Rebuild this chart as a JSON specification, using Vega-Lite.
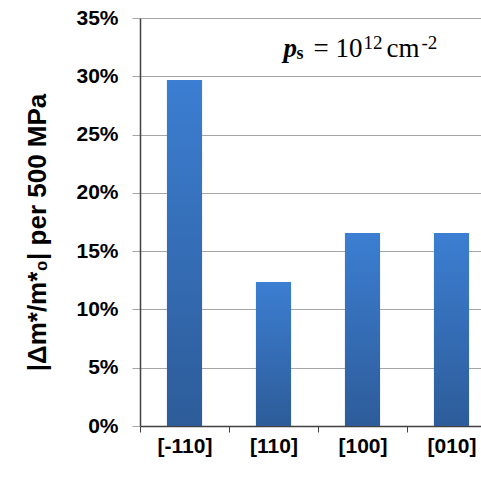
{
  "$schema": "https://vega.github.io/schema/vega-lite/v6.json",
  "autosize": {"type": "none"},
  "width": 341,
  "height": 408,
  "padding": {"left": 140, "top": 18, "right": 0, "bottom": 51},
  "background": "white",
  "config": {"view": {"stroke": null}},
  "datasets": {
    "bars": [
      {"dir": "[-110]", "val": 0.2968},
      {"dir": "[110]", "val": 0.1235},
      {"dir": "[100]", "val": 0.1656},
      {"dir": "[010]", "val": 0.1656}
    ],
    "note": [{"dir": "[100]", "val": 0.3165}]
  },
  "encoding": {
    "x": {
      "field": "dir",
      "type": "nominal",
      "sort": null,
      "scale": {"domain": ["[-110]", "[110]", "[100]", "[010]"], "range": [0, 356], "paddingInner": 0, "paddingOuter": 0},
      "axis": {
        "title": null,
        "labelAngle": 0,
        "tickBand": "extent",
        "tickSize": 6,
        "tickColor": "#404040",
        "domainColor": "#404040",
        "domainWidth": 1.5,
        "labelFont": "Liberation Sans",
        "labelFontWeight": "bold",
        "labelFontSize": 21,
        "labelColor": "black",
        "labelPadding": 3,
        "grid": false
      }
    },
    "y": {
      "field": "val",
      "type": "quantitative",
      "scale": {"domain": [0, 0.35], "nice": false},
      "axis": {
        "values": [0, 0.05, 0.1, 0.15, 0.2, 0.25, 0.3, 0.35],
        "format": ".0%",
        "title": "|Δm*/m*₀| per 500 MPa",
        "titleFont": "Liberation Sans",
        "titleFontSize": 26,
        "titleFontWeight": "bold",
        "titleColor": "black",
        "titlePadding": 25,
        "titleY": 214,
        "grid": true,
        "gridColor": "#A6A6A6",
        "gridWidth": 1,
        "tickColor": "#A6A6A6",
        "tickSize": 8,
        "domainColor": "#404040",
        "domainWidth": 1.5,
        "labelFont": "Liberation Sans",
        "labelFontWeight": "bold",
        "labelFontSize": 21,
        "labelColor": "black",
        "labelPadding": 14
      }
    }
  },
  "layer": [
    {
      "data": {"name": "bars"},
      "mark": {
        "type": "bar",
        "width": {"band": 0.395},
        "color": {
          "gradient": "linear",
          "x1": 0, "y1": 0, "x2": 0, "y2": 1,
          "stops": [
            {"offset": 0, "color": "#3C7ED2"},
            {"offset": 1, "color": "#2D5C99"}
          ]
        }
      }
    },
    {
      "data": {"name": "note"},
      "mark": {"type": "text", "text": "p", "font": "Liberation Serif", "fontStyle": "italic", "fontWeight": "bold", "fontSize": 27, "align": "left", "baseline": "alphabetic", "dx": -79, "color": "black"}
    },
    {
      "data": {"name": "note"},
      "mark": {"type": "text", "text": "s", "font": "Liberation Serif", "fontWeight": "bold", "fontSize": 18, "align": "left", "baseline": "alphabetic", "dx": -66, "dy": 2, "color": "black"}
    },
    {
      "data": {"name": "note"},
      "mark": {"type": "text", "text": "= 10", "font": "Liberation Serif", "fontSize": 27, "align": "left", "baseline": "alphabetic", "dx": -49, "color": "black"}
    },
    {
      "data": {"name": "note"},
      "mark": {"type": "text", "text": "12", "font": "Liberation Serif", "fontSize": 19, "align": "left", "baseline": "alphabetic", "dx": 1, "dy": -8, "color": "black"}
    },
    {
      "data": {"name": "note"},
      "mark": {"type": "text", "text": "cm", "font": "Liberation Serif", "fontSize": 27, "align": "left", "baseline": "alphabetic", "dx": 24, "color": "black"}
    },
    {
      "data": {"name": "note"},
      "mark": {"type": "text", "text": "-2", "font": "Liberation Serif", "fontSize": 19, "align": "left", "baseline": "alphabetic", "dx": 59, "dy": -8, "color": "black"}
    }
  ]
}
